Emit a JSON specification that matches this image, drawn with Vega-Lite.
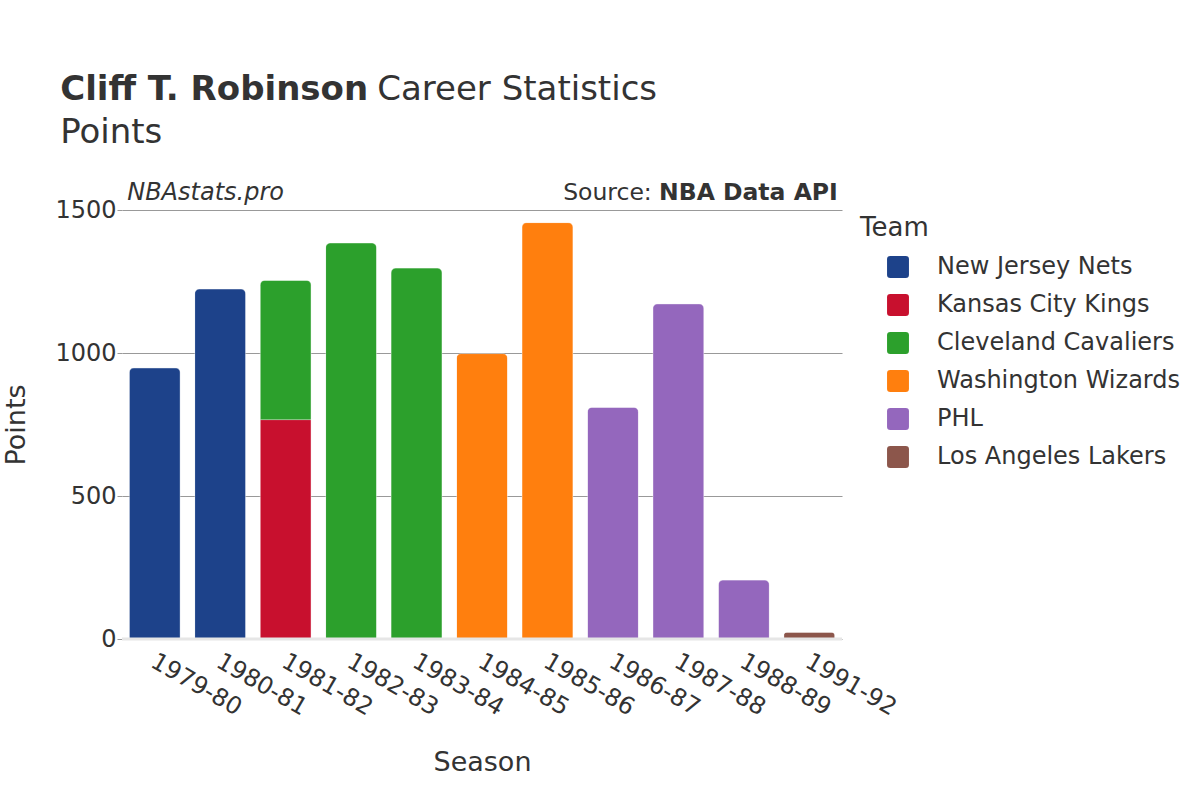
{
  "$schema": "https://vega.github.io/schema/vega-lite/v6.json",
  "width": 720,
  "height": 429,
  "autosize": {"type": "none"},
  "padding": {"left": 122, "top": 210, "right": 358, "bottom": 161},
  "background": "white",
  "config": {
    "font": "DejaVu Sans",
    "view": {"stroke": null}
  },
  "datasets": {
    "stats": [
      {"season": "1979-80", "team": "New Jersey Nets", "points": 948},
      {"season": "1980-81", "team": "New Jersey Nets", "points": 1224},
      {"season": "1981-82", "team": "Kansas City Kings", "points": 767},
      {"season": "1981-82", "team": "Cleveland Cavaliers", "points": 487},
      {"season": "1982-83", "team": "Cleveland Cavaliers", "points": 1385},
      {"season": "1983-84", "team": "Cleveland Cavaliers", "points": 1297},
      {"season": "1984-85", "team": "Washington Wizards", "points": 998},
      {"season": "1985-86", "team": "Washington Wizards", "points": 1456},
      {"season": "1986-87", "team": "PHL", "points": 810},
      {"season": "1987-88", "team": "PHL", "points": 1172},
      {"season": "1988-89", "team": "PHL", "points": 206},
      {"season": "1991-92", "team": "Los Angeles Lakers", "points": 24}
    ],
    "notes": [
      {"season": "1979-80", "y": 1500, "label": "NBAstats.pro"}
    ],
    "source": [
      {"season": "1991-92", "y": 1500, "bold": "NBA Data API", "plain": "Source:"}
    ],
    "base": [{"y": 0}],
    "heading": [{"season": "1979-80", "y": 1500, "name": "Cliff T. Robinson", "rest": "Career Statistics", "sub": "Points"}]
  },
  "layer": [
    {
      "data": {"name": "stats"},
      "mark": {"type": "bar", "cornerRadiusTopLeft": 5, "cornerRadiusTopRight": 5, "stroke": "white", "strokeWidth": 0.6, "strokeOpacity": 0.5},
      "encoding": {
        "x": {
          "field": "season", "type": "nominal", "sort": null,
          "scale": {"paddingInner": 0.22, "paddingOuter": 0.11},
          "axis": {
            "title": "Season", "titleFontSize": 27, "titleFontWeight": "normal", "titleColor": "#333333", "titlePadding": 30,
            "labelAngle": 30, "labelAlign": "left", "labelBaseline": "top", "labelFontSize": 24, "labelColor": "#333333",
            "labelPadding": 10, "labelOffset": 4,
            "ticks": false, "domain": false, "grid": false
          }
        },
        "y": {
          "field": "points", "type": "quantitative", "stack": "zero",
          "scale": {"domain": [0, 1500], "nice": false},
          "axis": {
            "title": "Points", "titleFontSize": 27, "titleFontWeight": "normal", "titleColor": "#333333", "titlePadding": 24,
            "values": [0, 500, 1000, 1500], "format": "d",
            "labelFontSize": 24, "labelColor": "#333333", "labelPadding": 1,
            "ticks": true, "tickSize": 5, "tickColor": "#999999",
            "domain": false, "grid": true, "gridColor": "#999999", "gridWidth": 1
          }
        },
        "color": {
          "field": "team", "type": "nominal",
          "scale": {
            "domain": ["New Jersey Nets", "Kansas City Kings", "Cleveland Cavaliers", "Washington Wizards", "PHL", "Los Angeles Lakers"],
            "range": ["#1d428a", "#c8102e", "#2ca02c", "#ff7f0e", "#9467bd", "#8c564b"]
          },
          "legend": {
            "title": "Team", "titleFontSize": 26, "titleFontWeight": "normal", "titleColor": "#333333", "titlePadding": 14,
            "orient": "none", "legendX": 738, "legendY": 5,
            "labelFontSize": 24, "labelColor": "#333333", "labelOffset": 27, "labelLimit": 400,
            "symbolType": "M -0.7 -1 L 0.7 -1 Q 1 -1 1 -0.7 L 1 0.7 Q 1 1 0.7 1 L -0.7 1 Q -1 1 -1 0.7 L -1 -0.7 Q -1 -1 -0.7 -1 Z",
            "symbolSize": 480, "symbolOffset": 26, "symbolStrokeWidth": 0, "symbolOpacity": 1,
            "rowPadding": 14
          }
        },
        "order": {"field": "team", "sort": "descending"}
      }
    },
    {
      "data": {"name": "base"},
      "mark": {"type": "rule", "color": "#e6e6e6", "strokeWidth": 3},
      "encoding": {"y": {"field": "y", "type": "quantitative"}}
    },
    {
      "data": {"name": "notes"},
      "mark": {"type": "text", "align": "left", "baseline": "alphabetic", "fontSize": 24, "fontStyle": "italic", "color": "#333333", "dx": -2, "dy": -10},
      "encoding": {
        "x": {"field": "season", "type": "nominal", "bandPosition": 0},
        "y": {"field": "y", "type": "quantitative"},
        "text": {"field": "label"}
      }
    },
    {
      "data": {"name": "source"},
      "mark": {"type": "text", "align": "right", "baseline": "alphabetic", "fontSize": 23.5, "fontWeight": "bold", "color": "#333333", "dx": 3, "dy": -10},
      "encoding": {
        "x": {"field": "season", "type": "nominal", "bandPosition": 1},
        "y": {"field": "y", "type": "quantitative"},
        "text": {"field": "bold"}
      }
    },
    {
      "data": {"name": "source"},
      "mark": {"type": "text", "align": "right", "baseline": "alphabetic", "fontSize": 23.5, "color": "#333333", "dx": -183, "dy": -10},
      "encoding": {
        "x": {"field": "season", "type": "nominal", "bandPosition": 1},
        "y": {"field": "y", "type": "quantitative"},
        "text": {"field": "plain"}
      }
    },
    {
      "data": {"name": "heading"},
      "mark": {"type": "text", "align": "left", "baseline": "alphabetic", "fontSize": 34, "fontWeight": "bold", "color": "#333333", "dx": -69, "dy": -110},
      "encoding": {
        "x": {"field": "season", "type": "nominal", "bandPosition": 0},
        "y": {"field": "y", "type": "quantitative"},
        "text": {"field": "name"}
      }
    },
    {
      "data": {"name": "heading"},
      "mark": {"type": "text", "align": "left", "baseline": "alphabetic", "fontSize": 34, "color": "#333333", "dx": 248, "dy": -110},
      "encoding": {
        "x": {"field": "season", "type": "nominal", "bandPosition": 0},
        "y": {"field": "y", "type": "quantitative"},
        "text": {"field": "rest"}
      }
    },
    {
      "data": {"name": "heading"},
      "mark": {"type": "text", "align": "left", "baseline": "alphabetic", "fontSize": 34, "color": "#333333", "dx": -69, "dy": -67},
      "encoding": {
        "x": {"field": "season", "type": "nominal", "bandPosition": 0},
        "y": {"field": "y", "type": "quantitative"},
        "text": {"field": "sub"}
      }
    }
  ]
}
